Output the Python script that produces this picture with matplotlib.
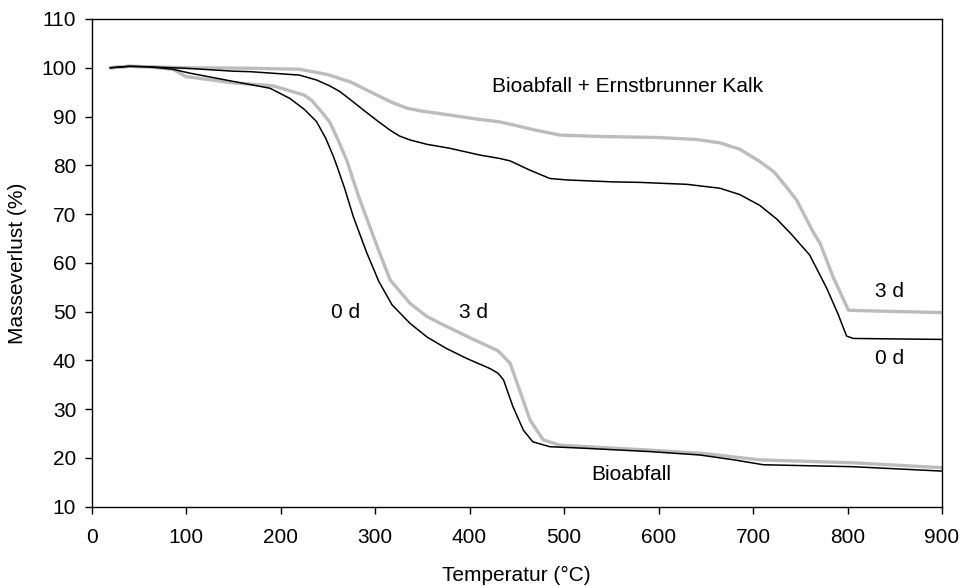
import matplotlib
matplotlib.use("Agg")
import matplotlib.pyplot as plt

plt.rcParams['font.family'] = ['Liberation Sans', 'DejaVu Sans']

# Bioabfall 0 d (black)
bio0_t = [20, 40, 60, 86, 104, 150, 189, 210, 225, 238, 248, 256, 260, 268, 277, 291, 304, 318, 337, 355,
          375, 397, 422, 430, 436, 446, 457, 467, 485, 520, 591, 644, 680, 711, 806, 900]
bio0_m = [100, 100.3, 100.2, 99.7, 98.9, 97.2, 95.8, 93.7, 91.5, 89.0, 85.5, 81.8, 79.7, 75.2, 69.5, 62.2,
          56.2, 51.4, 47.6, 44.8, 42.5, 40.4, 38.3, 37.4, 36.0, 30.5, 25.7, 23.3, 22.3, 22.0, 21.3, 20.6,
          19.6, 18.6, 18.2, 17.3]

# Bioabfall 3 d (grey)
bio3_t = [20, 40, 60, 86, 100, 150, 192, 213, 225, 233, 242, 252, 260, 270, 282, 288, 303, 316, 337, 355,
          369, 402, 430, 443, 453, 464, 478, 496, 591, 648, 707, 806, 900]
bio3_m = [100, 100.3, 100.2, 99.7, 98.2, 96.9, 96.3, 95.1, 94.4, 93.3, 91.3, 88.9, 85.6, 81.1, 74.0, 70.8,
          63.0, 56.5, 51.7, 49.0, 47.6, 44.5, 42.0, 39.4, 33.9, 27.8, 23.7, 22.6, 21.6, 20.9, 19.6, 19.0,
          18.0]

# Bioabfall + Ernstbrunner Kalk 0 d (black)
kalk0_t = [20, 40, 60, 100, 150, 168, 220, 238, 252, 263, 275, 288, 302, 316, 326, 337, 355, 379, 411, 432,
           443, 464, 485, 503, 552, 580, 630, 665, 686, 707, 725, 740, 760, 778, 790, 799, 806, 850, 900]
kalk0_m = [100, 100.3, 100.2, 99.9, 99.3, 99.2, 98.5, 97.5, 96.3, 95.1, 93.3, 91.3, 89.2, 87.2, 86.0,
           85.2, 84.3, 83.5, 82.1, 81.4, 80.9, 79.0, 77.3, 77.0, 76.6, 76.5, 76.1, 75.3, 74.0, 71.8, 69.0,
           66.0, 61.6, 54.8, 49.5, 45.0, 44.5, 44.4, 44.3]

# Bioabfall + Ernstbrunner Kalk 3 d (grey)
kalk3_t = [20, 40, 60, 100, 168, 220, 250, 274, 302, 318, 334, 350, 365, 411, 432, 446, 470, 496, 540, 600,
           640, 665, 686, 707, 722, 736, 746, 764, 771, 785, 801, 813, 900]
kalk3_m = [100, 100.3, 100.2, 100.0, 99.9, 99.7, 98.6, 97.1, 94.4, 92.9, 91.7, 91.1, 90.7, 89.4, 88.9,
           88.3, 87.2, 86.2, 85.9, 85.7, 85.3, 84.6, 83.3, 80.8, 78.7, 75.4, 72.9, 66.2, 64.0, 57.0, 50.3,
           50.2, 49.8]

x_ticks = [0, 100, 200, 300, 400, 500, 600, 700, 800, 900]
y_ticks = [10, 20, 30, 40, 50, 60, 70, 80, 90, 100, 110]

GREY = '#bcbcbc'
FS = 15

fig = plt.figure(figsize=(9.63, 5.86), dpi=100)
W, H = 963, 586
ax = fig.add_axes([91.5 / W, 1 - 506.7 / H, (942 - 91.5) / W, (506.7 - 19) / H])

ax.plot(bio3_t, bio3_m, color=GREY, lw=2.4, solid_capstyle='round', solid_joinstyle='round', zorder=2)
ax.plot(kalk3_t, kalk3_m, color=GREY, lw=2.4, solid_capstyle='round', solid_joinstyle='round', zorder=2)
ax.plot(bio0_t, bio0_m, color='black', lw=1.1, solid_joinstyle='round', zorder=3)
ax.plot(kalk0_t, kalk0_m, color='black', lw=1.1, solid_joinstyle='round', zorder=3)

ax.set_xlim(0, 900)
ax.set_ylim(10, 110)
ax.set_xticks(x_ticks)
ax.set_yticks(y_ticks)
ax.tick_params(direction='out', length=5, width=1.0, labelsize=FS)
ax.tick_params(axis='x', pad=10)
ax.tick_params(axis='y', pad=6)
for s in ax.spines.values():
    s.set_linewidth(1.0)

ax.set_xlabel('Temperatur (°C)', fontsize=FS, labelpad=14)
ax.set_ylabel('Masseverlust (%)', fontsize=FS, labelpad=10)

ax.text(269, 49.8, '0 d', fontsize=FS, ha='center', va='center')
ax.text(404, 49.8, '3 d', fontsize=FS, ha='center', va='center')
ax.text(571, 16.6, 'Bioabfall', fontsize=FS, ha='center', va='center')
ax.text(844, 54.1, '3 d', fontsize=FS, ha='center', va='center')
ax.text(844, 40.4, '0 d', fontsize=FS, ha='center', va='center')
ax.text(567, 96.2, 'Bioabfall + Ernstbrunner Kalk', fontsize=FS, ha='center', va='center')

fig.savefig('out.png', dpi=100)
